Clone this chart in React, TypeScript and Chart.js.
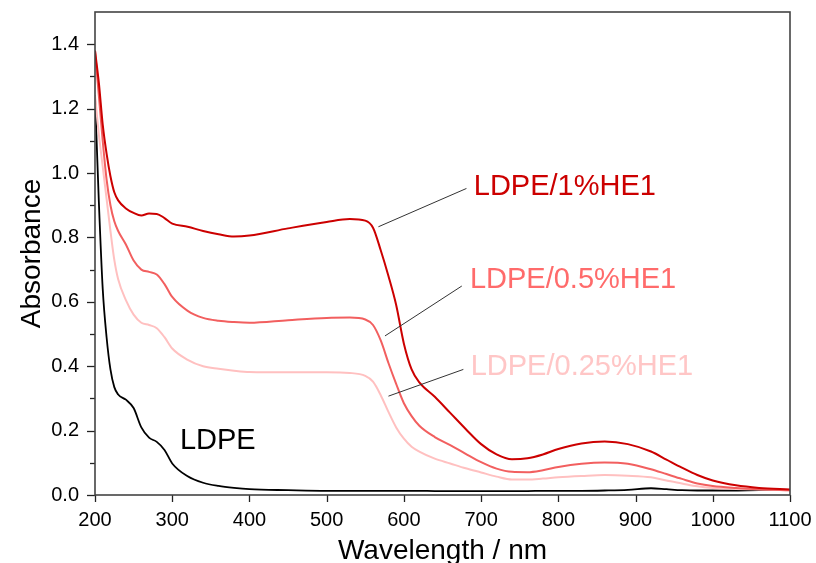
import React, { useEffect, useRef } from "react";
import { Chart, registerables } from "chart.js";

Chart.register(...registerables);

const wavelengths = [200,205,210,215,220,225,230,240,250,260,270,280,290,300,320,340,360,380,400,450,500,530,550,560,570,580,590,600,610,620,640,660,680,700,720,740,760,780,800,830,860,890,920,940,960,980,1000,1030,1060,1100];

const he1 = [1.38,1.28,1.15,1.06,0.99,0.94,0.915,0.89,0.876,0.868,0.874,0.873,0.86,0.843,0.833,0.82,0.81,0.803,0.806,0.828,0.848,0.857,0.852,0.83,0.76,0.68,0.59,0.47,0.39,0.35,0.305,0.255,0.205,0.158,0.126,0.111,0.114,0.126,0.143,0.16,0.166,0.158,0.135,0.11,0.085,0.062,0.045,0.03,0.022,0.017];

const he05 = [1.38,1.24,1.10,0.98,0.90,0.85,0.82,0.778,0.728,0.70,0.693,0.685,0.655,0.615,0.572,0.55,0.541,0.537,0.535,0.543,0.55,0.551,0.545,0.528,0.48,0.41,0.345,0.285,0.245,0.215,0.18,0.155,0.128,0.102,0.082,0.072,0.071,0.077,0.087,0.097,0.101,0.097,0.08,0.065,0.05,0.036,0.028,0.022,0.018,0.015];

const he025 = [1.24,1.12,1.02,0.92,0.82,0.73,0.67,0.605,0.56,0.535,0.528,0.518,0.49,0.455,0.42,0.40,0.392,0.386,0.382,0.381,0.381,0.379,0.37,0.352,0.31,0.258,0.21,0.175,0.15,0.135,0.113,0.098,0.083,0.07,0.057,0.048,0.048,0.051,0.055,0.059,0.062,0.06,0.055,0.045,0.036,0.027,0.022,0.019,0.017,0.015];

const ldpe = [1.24,0.91,0.64,0.49,0.39,0.335,0.312,0.296,0.27,0.21,0.178,0.165,0.14,0.098,0.058,0.038,0.028,0.022,0.018,0.015,0.013,0.013,0.013,0.013,0.013,0.013,0.013,0.013,0.013,0.013,0.012,0.012,0.012,0.012,0.012,0.012,0.012,0.013,0.013,0.013,0.014,0.016,0.021,0.018,0.015,0.014,0.014,0.014,0.015,0.015];

const seriesNames = ["LDPE/1%HE1", "LDPE/0.5%HE1", "LDPE/0.25%HE1", "LDPE"];
const xTickValues = [200,300,400,500,600,700,800,900,1000,1100];
const yTickValues = [0,0.1,0.2,0.3,0.4,0.5,0.6,0.7,0.8,0.9,1.0,1.1,1.2,1.3,1.4];

const COLORS = ["#cc0000", "#f25f5f", "#ffc0c0", "#000000"];
const TEXT_COLORS = ["#cc0000", "#ff6b6b", "#ffc6c6", "#000000"];
const FONT = "'Liberation Sans', Arial, sans-serif";

// annotation placement in data coordinates (wavelength, absorbance)
const labelAnchors = [
  { x: 690.5, y: 0.958 },
  { x: 685.5, y: 0.669 },
  { x: 686.5, y: 0.396 },
  { x: 310, y: 0.168 },
];
const leaderLines = [
  { x1: 567, y1: 0.833, x2: 681, y2: 0.952 },
  { x1: 575.5, y1: 0.494, x2: 675, y2: 0.649 },
  { x1: 580, y1: 0.307, x2: 677, y2: 0.39 },
];

const overlayPlugin = {
  id: "overlay",
  afterDatasetsDraw(chart: any) {
    const { ctx, scales } = chart;
    const xs = scales.x;
    const ys = scales.y;
    ctx.save();
    ctx.strokeStyle = "#333333";
    ctx.lineWidth = 1;
    leaderLines.forEach((l) => {
      ctx.beginPath();
      ctx.moveTo(xs.getPixelForValue(l.x1), ys.getPixelForValue(l.y1));
      ctx.lineTo(xs.getPixelForValue(l.x2), ys.getPixelForValue(l.y2));
      ctx.stroke();
    });
    ctx.font = `29px ${FONT}`;
    ctx.textAlign = "left";
    ctx.textBaseline = "middle";
    labelAnchors.forEach((a, i) => {
      ctx.fillStyle = TEXT_COLORS[i];
      ctx.fillText(seriesNames[i], xs.getPixelForValue(a.x), ys.getPixelForValue(a.y));
    });
    ctx.restore();
  },
  afterDraw(chart: any) {
    const { ctx, chartArea, scales } = chart;
    const xs = scales.x;
    const ys = scales.y;
    const { left, right, top, bottom } = chartArea;
    ctx.save();
    ctx.strokeStyle = "#222222";
    ctx.lineWidth = 1.3;
    xTickValues.forEach((v) => {
      const px = Math.round(xs.getPixelForValue(v)) + 0.5;
      ctx.beginPath();
      ctx.moveTo(px, bottom);
      ctx.lineTo(px, bottom + 7);
      ctx.stroke();
    });
    yTickValues.forEach((v) => {
      const py = Math.round(ys.getPixelForValue(v)) + 0.5;
      const major = Math.round(v * 10) % 2 === 0;
      ctx.beginPath();
      ctx.moveTo(left, py);
      ctx.lineTo(left - (major ? 8 : 5), py);
      ctx.stroke();
    });
    ctx.strokeStyle = "#444444";
    ctx.lineWidth = 1.6;
    ctx.strokeRect(left, top, right - left, bottom - top);
    ctx.fillStyle = "#000000";
    ctx.font = `28px ${FONT}`;
    ctx.textAlign = "center";
    ctx.textBaseline = "alphabetic";
    ctx.fillText("Wavelength / nm", (left + right) / 2, 559);
    ctx.save();
    ctx.translate(40, (top + bottom) / 2);
    ctx.rotate(-Math.PI / 2);
    ctx.fillText("Absorbance", 0, 0);
    ctx.restore();
    ctx.restore();
  },
};

export default function App() {
  const canvasRef = useRef<HTMLCanvasElement | null>(null);

  useEffect(() => {
    if (!canvasRef.current) return;
    const mk = (vals: number[]) => wavelengths.map((w, i) => ({ x: w, y: vals[i] }));
    const seriesValues = [he1, he05, he025, ldpe];
    const chart = new Chart(canvasRef.current, {
      type: "line",
      data: {
        datasets: seriesValues.map((vals, i) => ({
          label: seriesNames[i],
          data: mk(vals),
          borderColor: COLORS[i],
          borderWidth: i === 3 ? 1.8 : 2,
          pointRadius: 0,
          fill: false,
          cubicInterpolationMode: "monotone" as const,
        })),
      },
      options: {
        animation: false,
        responsive: false,
        devicePixelRatio: 1,
        layout: { padding: { top: 12, right: 26, left: 0, bottom: 0 } },
        plugins: { legend: { display: false }, tooltip: { enabled: false } },
        scales: {
          x: {
            type: "linear",
            min: 200,
            max: 1100,
            afterBuildTicks: (s: any) => {
              s.ticks = xTickValues.map((v) => ({ value: v }));
            },
            afterFit: (s: any) => {
              s.height = 68;
              s.paddingLeft = 0;
              s.paddingRight = 0;
            },
            grid: { display: false, drawTicks: false },
            border: { display: false },
            ticks: {
              padding: 13,
              color: "#000000",
              font: { family: FONT, size: 20 },
              maxRotation: 0,
              autoSkip: false,
              callback: (v: any) => String(v),
            },
          },
          y: {
            type: "linear",
            min: 0,
            max: 1.5,
            afterBuildTicks: (s: any) => {
              s.ticks = yTickValues.filter((v) => Math.round(v * 10) % 2 === 0).map((v) => ({ value: v }));
            },
            afterFit: (s: any) => {
              s.width = 95;
              s.paddingTop = 0;
              s.paddingBottom = 0;
            },
            grid: { display: false, drawTicks: false },
            border: { display: false },
            ticks: {
              padding: 16,
              color: "#000000",
              font: { family: FONT, size: 20 },
              autoSkip: false,
              callback: (v: any) => Number(v).toFixed(1),
            },
          },
        },
      },
      plugins: [overlayPlugin],
    });
    return () => chart.destroy();
  }, []);

  return (
    <div style={{ position: "absolute", left: 0, top: 0, width: 816, height: 563, background: "#ffffff" }}>
      <canvas ref={canvasRef} width={816} height={563} style={{ display: "block" }} />
    </div>
  );
}
